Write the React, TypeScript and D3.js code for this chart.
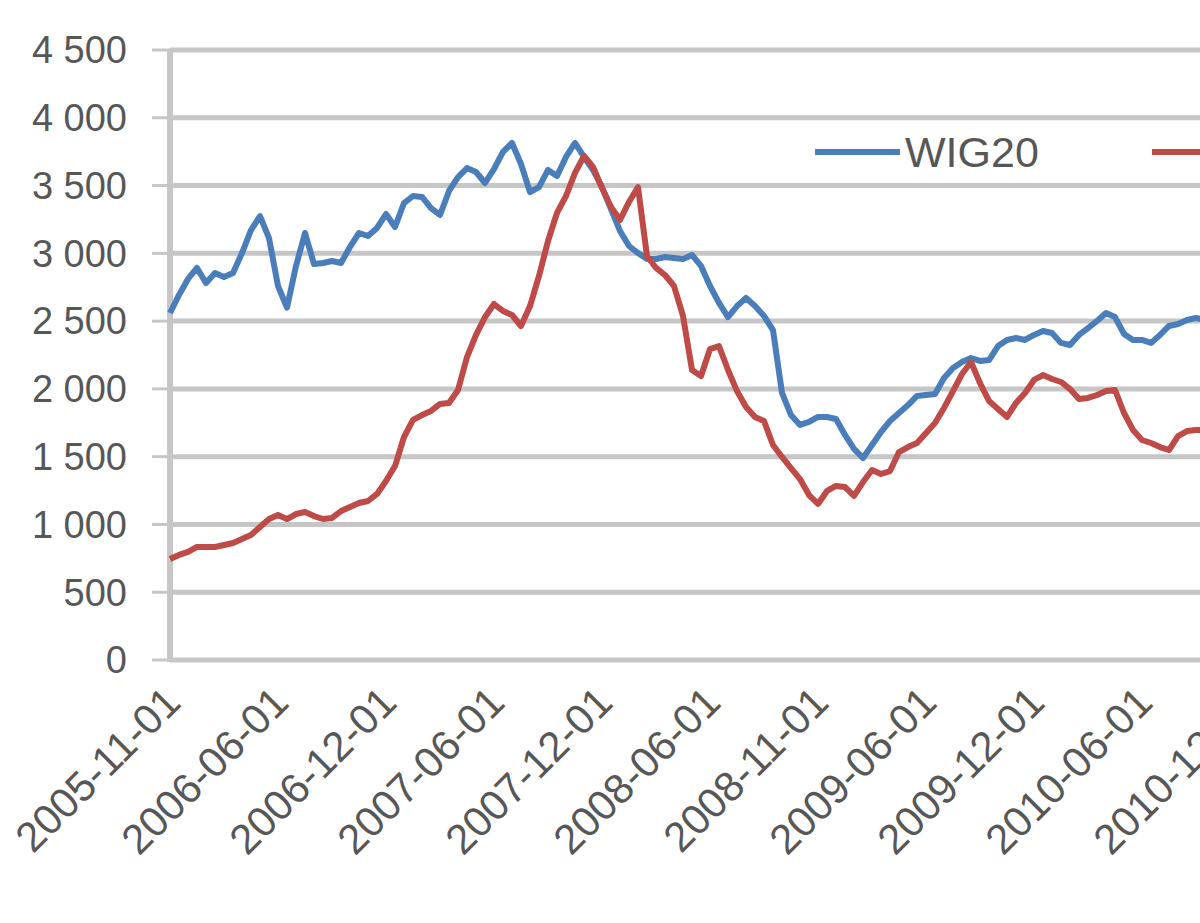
import React from "react";
import * as d3 from "d3";

// Category tick labels (every 12th half-month point)
const tickLabels = [
  "2005-11-01", "2006-06-01", "2006-12-01", "2007-06-01", "2007-12-01",
  "2008-06-01", "2008-11-01", "2009-06-01", "2009-12-01", "2010-06-01", "2010-12-01",
];
const tickStep = 12;

const yTicks = [0, 500, 1000, 1500, 2000, 2500, 3000, 3500, 4000, 4500];

const seriesNames = ["WIG20", "mWIG40"];

const wig20 = [
  2560, 2693, 2811, 2892, 2781, 2855, 2825, 2855, 3002, 3172,
  3275, 3113, 2759, 2600, 2907, 3150, 2921, 2929, 2943, 2929,
  3047, 3150, 3128, 3187, 3290, 3194, 3371, 3423, 3416, 3334,
  3283, 3460, 3563, 3629, 3600, 3519, 3622, 3748, 3814, 3659,
  3452, 3489, 3615, 3570, 3711, 3814, 3711, 3615, 3489, 3327,
  3165, 3054, 3002, 2958, 2958, 2973, 2966, 2958, 2988, 2907,
  2759, 2634, 2530, 2611, 2671, 2611, 2538, 2434, 1970, 1807,
  1734, 1756, 1793, 1793, 1778, 1660, 1557, 1490, 1586, 1682,
  1763, 1822, 1881, 1948, 1955, 1962, 2080, 2154, 2198, 2228,
  2206, 2213, 2316, 2361, 2375, 2361, 2398, 2427, 2412, 2339,
  2324, 2398, 2449, 2501, 2560, 2530, 2405, 2361, 2361, 2339,
  2398, 2464, 2479, 2508, 2523, 2508,
];

const mwig40 = [
  745, 775, 797, 834, 834, 834, 848, 863, 893, 922,
  981, 1040, 1070, 1040, 1077, 1092, 1062, 1040, 1048, 1099,
  1129, 1158, 1173, 1225, 1320, 1431, 1645, 1771, 1807, 1837,
  1889, 1896, 1992, 2235, 2398, 2530, 2626, 2575, 2545, 2464,
  2611, 2833, 3091, 3298, 3423, 3593, 3718, 3637, 3482, 3342,
  3246, 3379, 3489, 2980, 2892, 2840, 2759, 2538, 2139, 2095,
  2294, 2316, 2139, 1984, 1866, 1793, 1763, 1586, 1498, 1416,
  1335, 1217, 1151, 1247, 1284, 1276, 1210, 1313, 1402, 1372,
  1394, 1534, 1571, 1601, 1675, 1748, 1859, 1984, 2110, 2198,
  2043, 1911, 1852, 1793, 1896, 1970, 2066, 2102, 2073, 2051,
  1999, 1925, 1933, 1955, 1984, 1992, 1822, 1697, 1623, 1601,
  1571, 1549, 1652, 1689, 1697, 1697,
];

const colors = ["#4A7EBB", "#BE4B48"];

export default function App() {
  const W = 1200;
  const H = 923;
  const plotLeft = 170;
  const plotTop = 50;
  const plotBottom = 660;
  const plotRight = 1260;

  const x = d3
    .scaleLinear()
    .domain([0, (tickLabels.length - 1) * tickStep])
    .range([plotLeft, plotLeft + 108 * (tickLabels.length - 1)]);
  const y = d3.scaleLinear().domain([0, 4500]).range([plotBottom, plotTop]);

  const locale = d3.formatLocale({
    decimal: ",",
    thousands: " ",
    grouping: [3],
    currency: ["", ""],
  });
  const fmt = locale.format(",");

  const line = d3
    .line<number>()
    .x((_, i) => x(i))
    .y((d) => y(d))
    .curve(d3.curveLinear);

  const font = "'Liberation Sans', Arial, sans-serif";
  const textColor = "#575757";
  const gridColor = "#C6C6C6";

  return (
    <svg
      width={W}
      height={H}
      style={{ position: "absolute", left: 0, top: 0, background: "#fff" }}
    >
      {/* gridlines */}
      {yTicks.map((t) => (
        <line
          key={"g" + t}
          x1={plotLeft}
          x2={plotRight}
          y1={y(t)}
          y2={y(t)}
          stroke={gridColor}
          strokeWidth={5}
        />
      ))}
      {/* y tick marks */}
      {yTicks.map((t) => (
        <line
          key={"t" + t}
          x1={plotLeft - 18}
          x2={plotLeft}
          y1={y(t)}
          y2={y(t)}
          stroke={gridColor}
          strokeWidth={3}
        />
      ))}
      {/* left axis */}
      <line
        x1={plotLeft}
        x2={plotLeft}
        y1={plotTop}
        y2={plotBottom + 2}
        stroke={gridColor}
        strokeWidth={6}
      />
      {/* y labels */}
      {yTicks.map((t) => (
        <text
          key={"yl" + t}
          x={127}
          y={y(t)}
          dy="0.35em"
          textAnchor="end"
          fontFamily={font}
          fontSize={38}
          fill={textColor}
        >
          {fmt(t)}
        </text>
      ))}
      {/* x labels */}
      {tickLabels.map((lab, i) => (
        <text
          key={"xl" + lab}
          transform={`translate(${x(i * tickStep) - 8},${plotBottom + 24}) rotate(-45)`}
          textAnchor="end"
          dy="0.7em"
          fontFamily={font}
          fontSize={42}
          fill={textColor}
        >
          {lab}
        </text>
      ))}
      {/* series lines */}
      <path d={line(wig20) || ""} fill="none" stroke={colors[0]} strokeWidth={6} strokeLinejoin="round" />
      <path d={line(mwig40) || ""} fill="none" stroke={colors[1]} strokeWidth={6} strokeLinejoin="round" />
      {/* legend */}
      <line x1={815} x2={900} y1={152} y2={152} stroke={colors[0]} strokeWidth={6} />
      <text
        x={905}
        y={152}
        dy="0.36em"
        fontFamily={font}
        fontSize={43}
        fill={textColor}
      >
        {seriesNames[0]}
      </text>
      <line x1={1152} x2={1240} y1={152} y2={152} stroke={colors[1]} strokeWidth={6} />
    </svg>
  );
}
